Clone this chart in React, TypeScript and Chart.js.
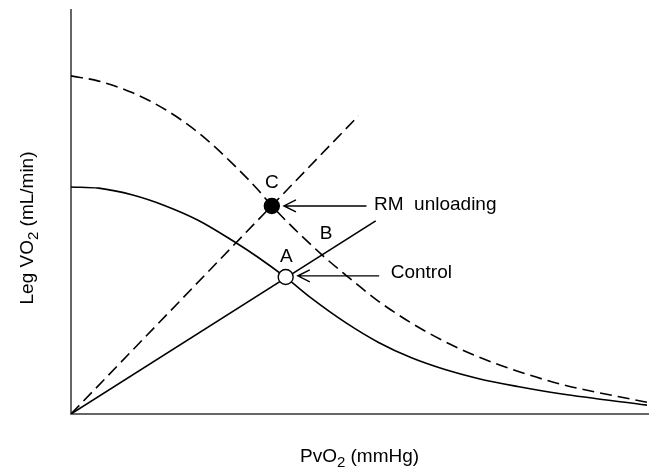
import React, { useEffect, useRef } from "react";
import { Chart, registerables } from "chart.js";

Chart.register(...registerables);

// Control curve (solid)
const controlCurveX = [0, 4.8, 10.7, 16.4, 22.1, 27.9, 32.4, 37.2, 41.7, 47.6, 53.3, 59.0, 64.8, 70.5, 77.4, 84.8, 99.8];
const controlCurveY = [56.2, 55.9, 54.2, 51.5, 47.9, 43.0, 38.8, 33.8, 28.6, 22.6, 17.7, 13.9, 11.0, 8.8, 6.8, 5.0, 2.2];

// RM unloading curve (dashed)
const rmCurveX = [0, 4.8, 10.7, 16.4, 22.1, 27.9, 32.4, 34.8, 43.4, 47.6, 53.3, 59.0, 64.8, 70.5, 77.4, 84.8, 99.8];
const rmCurveY = [83.7, 82.4, 79.5, 75.3, 69.6, 62.1, 55.5, 51.5, 39.5, 34.4, 27.9, 22.5, 17.9, 14.2, 10.6, 7.4, 2.9];

// Straight lines from origin
const controlLineX = [0, 52.8];
const controlLineY = [0, 47.8];
const rmLineX = [0, 49.8];
const rmLineY = [0, 73.8];

// Marked points
const pointA = { x: 37.2, y: 33.9 };
const pointC = { x: 34.8, y: 51.5 };

// Annotations: arrows and labels
const arrows = [
  { label: "RM  unloading", fromX: 51.2, toX: 36.9, y: 51.5, textX: 52.5, textY: 51.8 },
  { label: "Control", fromX: 53.4, toX: 39.3, y: 34.2, textX: 55.4, textY: 35.0 },
];
const letters = [
  { t: "C", x: 34.8, y: 57.3 },
  { t: "A", x: 37.3, y: 38.9 },
  { t: "B", x: 44.2, y: 44.6 },
];

const FONT = "Liberation Sans, Arial, sans-serif";

function zip(xs: number[], ys: number[]) {
  return xs.map((x, i) => ({ x, y: ys[i] }));
}

function drawRich(
  ctx: CanvasRenderingContext2D,
  parts: { t: string; sub?: boolean }[],
  cx: number,
  cy: number,
  size: number
) {
  const subSize = Math.round(size * 0.78);
  let total = 0;
  const widths = parts.map((p) => {
    ctx.font = `${p.sub ? subSize : size}px ${FONT}`;
    const w = ctx.measureText(p.t).width;
    total += w;
    return w;
  });
  let x = cx - total / 2;
  ctx.textAlign = "left";
  ctx.textBaseline = "alphabetic";
  parts.forEach((p, i) => {
    ctx.font = `${p.sub ? subSize : size}px ${FONT}`;
    ctx.fillText(p.t, x, cy + (p.sub ? size * 0.28 : 0));
    x += widths[i];
  });
}

const annotationPlugin = {
  id: "annot",
  afterDraw(chart: any) {
    const ctx: CanvasRenderingContext2D = chart.ctx;
    const xs = chart.scales.x;
    const ys = chart.scales.y;
    ctx.save();
    ctx.fillStyle = "#000";
    ctx.strokeStyle = "#000";
    ctx.lineWidth = 1.4;
    arrows.forEach((a) => {
      const x1 = xs.getPixelForValue(a.fromX);
      const x2 = xs.getPixelForValue(a.toX);
      const y = ys.getPixelForValue(a.y);
      ctx.beginPath();
      ctx.moveTo(x1, y);
      ctx.lineTo(x2, y);
      ctx.moveTo(x2 + 12, y - 6);
      ctx.lineTo(x2, y);
      ctx.lineTo(x2 + 12, y + 6);
      ctx.stroke();
      ctx.font = `19px ${FONT}`;
      ctx.textAlign = "left";
      ctx.textBaseline = "middle";
      ctx.fillText(a.label, xs.getPixelForValue(a.textX), ys.getPixelForValue(a.textY));
    });
    letters.forEach((l) => {
      ctx.font = `19px ${FONT}`;
      ctx.textAlign = "center";
      ctx.textBaseline = "middle";
      ctx.fillText(l.t, xs.getPixelForValue(l.x), ys.getPixelForValue(l.y));
    });
    const area = chart.chartArea;
    drawRich(
      ctx,
      [{ t: "PvO" }, { t: "2", sub: true }, { t: " (mmHg)" }],
      (area.left + area.right) / 2,
      462,
      19
    );
    ctx.save();
    ctx.translate(33, 228);
    ctx.rotate(-Math.PI / 2);
    drawRich(
      ctx,
      [{ t: "Leg VO" }, { t: "2", sub: true }, { t: " (mL/min)" }],
      0,
      0,
      19
    );
    ctx.restore();
    ctx.restore();
  },
};

export default function App() {
  const ref = useRef<HTMLCanvasElement>(null);
  useEffect(() => {
    document.body.style.margin = "0";
    const lineBase = {
      showLine: true,
      borderColor: "#000",
      borderWidth: 1.6,
      pointRadius: 0,
      order: 2,
    };
    const chart = new Chart(ref.current!, {
      type: "scatter",
      data: {
        datasets: [
          { ...lineBase, data: zip(controlCurveX, controlCurveY), cubicInterpolationMode: "monotone" },
          {
            ...lineBase,
            data: zip(rmCurveX, rmCurveY),
            borderDash: [12, 6],
            cubicInterpolationMode: "monotone",
          },
          { ...lineBase, data: zip(controlLineX, controlLineY) },
          { ...lineBase, data: zip(rmLineX, rmLineY), borderDash: [12, 6] },
          {
            data: [pointA],
            pointRadius: 7.5,
            pointBackgroundColor: "#fff",
            pointBorderColor: "#000",
            pointBorderWidth: 1.4,
            order: 0,
          },
          {
            data: [pointC],
            pointRadius: 7.5,
            pointBackgroundColor: "#000",
            pointBorderColor: "#000",
            pointBorderWidth: 1.4,
            order: 0,
          },
        ],
      } as any,
      options: {
        animation: false,
        responsive: false,
        maintainAspectRatio: false,
        layout: { padding: { left: 63, right: 6, top: 10, bottom: 51 } },
        plugins: { legend: { display: false }, tooltip: { enabled: false } },
        scales: {
          x: {
            type: "linear",
            min: 0,
            max: 100,
            ticks: { display: false },
            grid: { display: false },
            border: { display: true, color: "#666", width: 2 },
          },
          y: {
            type: "linear",
            min: 0,
            max: 100,
            ticks: { display: false },
            grid: { display: false },
            border: { display: true, color: "#666", width: 2 },
          },
        },
      } as any,
      plugins: [annotationPlugin],
    });
    return () => chart.destroy();
  }, []);
  return (
    <div style={{ position: "fixed", left: 0, top: 0, width: 657, height: 473, background: "#fff" }}>
      <canvas ref={ref} width={657} height={473} />
    </div>
  );
}
